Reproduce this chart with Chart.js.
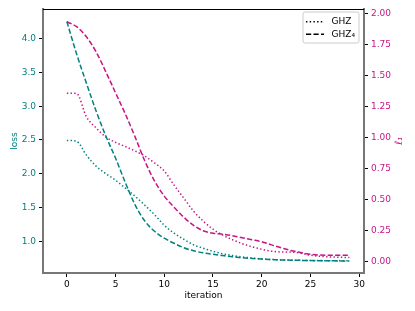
<!DOCTYPE html>
<html>
<head>
<meta charset="utf-8">
<script src="https://cdn.jsdelivr.net/npm/chart.js@4"></script>
<style>
  html, body { margin: 0; padding: 0; background: #fff; }
  #wrap { width: 415px; height: 311px; }
</style>
</head>
<body>
<div id="wrap"><canvas id="chart" width="415" height="311"></canvas></div>
<script>
const iterations = [0,1,2,3,4,5,6,7,8,9,10,11,12,13,14,15,16,17,18,19,20,21,22,23,24,25,26,27,28,29];

const lossGHZ = [2.494,2.480,2.276,2.113,2.001,1.905,1.786,1.668,1.534,1.393,1.237,1.119,1.030,0.948,0.896,
  0.852,0.815,0.789,0.769,0.752,0.739,0.730,0.724,0.720,0.717,0.715,0.714,0.712,0.712,0.711];
const lossGHZ4 = [4.254,3.774,3.344,2.929,2.558,2.230,1.870,1.540,1.300,1.148,1.045,0.970,0.904,0.859,0.829,
  0.807,0.788,0.770,0.755,0.745,0.736,0.730,0.724,0.720,0.717,0.714,0.712,0.711,0.709,0.708];
const l1GHZ = [1.358,1.355,1.168,1.077,1.004,0.960,0.927,0.891,0.850,0.794,0.729,0.615,0.510,0.405,0.324,
  0.259,0.211,0.174,0.142,0.117,0.097,0.081,0.075,0.074,0.065,0.049,0.040,0.035,0.032,0.030];
const l1GHZ4 = [1.935,1.895,1.814,1.692,1.530,1.360,1.190,1.005,0.810,0.648,0.526,0.437,0.356,0.290,0.246,
  0.227,0.219,0.206,0.190,0.174,0.158,0.132,0.109,0.087,0.070,0.057,0.050,0.049,0.049,0.049];

const xTicks = [0, 5, 10, 15, 20, 25, 30];
const lossTicks = [1.0, 1.5, 2.0, 2.5, 3.0, 3.5, 4.0];
const l1Ticks = [0, 0.25, 0.5, 0.75, 1.0, 1.25, 1.5, 1.75, 2.0];

const TEAL = "#008080";
const PINK = "#c71585";
const DOT = [1.4, 2.3];
const DASH = [5.2, 2.3];
const FONT = { family: "DejaVu Sans", size: 9 };

function points(values) {
  return values.map((v, i) => ({ x: iterations[i], y: v }));
}

function fixedTicks(list) {
  return (scale) => { scale.ticks = list.map((v) => ({ value: v })); };
}

const extras = {
  id: "extras",
  afterDraw(chart) {
    const { ctx, chartArea: a } = chart;
    ctx.save();
    // top spine
    ctx.strokeStyle = "#000";
    ctx.lineWidth = 1;
    ctx.beginPath();
    ctx.moveTo(a.left, a.top + 0.5);
    ctx.lineTo(a.right, a.top + 0.5);
    ctx.stroke();

    // right axis title, rotated like matplotlib
    ctx.translate(399, (a.top + a.bottom) / 2);
    ctx.rotate(-Math.PI / 2);
    ctx.fillStyle = PINK;
    ctx.font = "italic 10px 'DejaVu Sans'";
    ctx.textAlign = "center";
    ctx.textBaseline = "middle";
    ctx.fillText("ℓ₁", 0, 0);
    ctx.restore();

    // legend
    ctx.save();
    const lx = 303, ly = 12, lw = 56, lh = 31, r = 2;
    ctx.beginPath();
    ctx.roundRect(lx, ly, lw, lh, r);
    ctx.fillStyle = "rgba(255,255,255,0.8)";
    ctx.fill();
    ctx.strokeStyle = "#cccccc";
    ctx.lineWidth = 1;
    ctx.stroke();
    const rows = [["GHZ", DOT, 21.7], ["GHZ₄", DASH, 34.3]];
    ctx.font = "9px 'DejaVu Sans'";
    ctx.textBaseline = "middle";
    ctx.fillStyle = "#000";
    for (const [label, dash, y] of rows) {
      ctx.setLineDash(dash);
      ctx.strokeStyle = "#000";
      ctx.lineWidth = 1.4;
      ctx.beginPath();
      ctx.moveTo(306, y);
      ctx.lineTo(324, y);
      ctx.stroke();
      ctx.setLineDash([]);
      ctx.fillText(label, 331.5, y);
    }
    ctx.restore();
  },
};

function line(label, values, color, dash, axis) {
  return {
    label,
    data: points(values),
    borderColor: color,
    borderDash: dash,
    borderWidth: 1.5,
    pointRadius: 0,
    cubicInterpolationMode: "monotone",
    yAxisID: axis,
  };
}

new Chart(document.getElementById("chart"), {
  type: "line",
  data: {
    datasets: [
      line("GHZ loss", lossGHZ, TEAL, DOT, "yLoss"),
      line("GHZ4 loss", lossGHZ4, TEAL, DASH, "yLoss"),
      line("GHZ l1", l1GHZ, PINK, DOT, "yL1"),
      line("GHZ4 l1", l1GHZ4, PINK, DASH, "yL1"),
    ],
  },
  options: {
    responsive: false,
    animation: false,
    layout: { padding: { top: 9, left: 0, right: 0, bottom: 0 } },
    plugins: { legend: { display: false }, tooltip: { enabled: false } },
    scales: {
      x: {
        type: "linear",
        min: -2.45,
        max: 30.5,
        afterBuildTicks: fixedTicks(xTicks),
        afterFit: (s) => { s.height = 38; },
        grid: { drawOnChartArea: false, color: "#000", tickColor: "#000", tickLength: 4 },
        border: { color: "#777", width: 2 },
        ticks: { color: "#000", font: FONT, padding: 2, maxRotation: 0 },
        title: { display: true, text: "iteration", color: "#000", font: FONT, padding: { top: 0, bottom: 10 } },
      },
      yLoss: {
        type: "linear",
        position: "left",
        min: 0.53,
        max: 4.44,
        afterBuildTicks: fixedTicks(lossTicks),
        afterFit: (s) => { s.width = 43; },
        grid: { drawOnChartArea: false, color: "#000", tickColor: "#000", tickLength: 4 },
        border: { color: "#777", width: 2 },
        ticks: { color: TEAL, font: FONT, padding: 3, callback: (v) => v.toFixed(1) },
        title: { display: true, text: "loss", color: TEAL, font: FONT, padding: { top: 9, bottom: 0 } },
      },
      yL1: {
        type: "linear",
        position: "right",
        min: -0.095,
        max: 2.038,
        afterBuildTicks: fixedTicks(l1Ticks),
        afterFit: (s) => { s.width = 51; },
        grid: { drawOnChartArea: false, color: "#000", tickColor: "#000", tickLength: 4 },
        border: { color: "#777", width: 2 },
        ticks: { color: PINK, font: FONT, padding: 3, callback: (v) => v.toFixed(2) },
      },
    },
  },
  plugins: [extras],
});
</script>
</body>
</html>
